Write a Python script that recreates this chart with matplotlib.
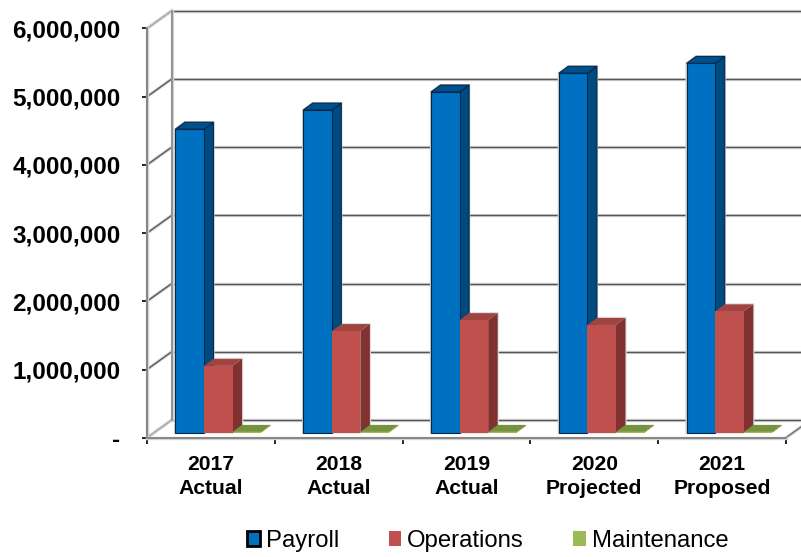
import matplotlib
matplotlib.use("Agg")
import matplotlib.pyplot as plt
import matplotlib.patheffects as pe
from matplotlib.patches import Polygon, Patch

plt.rcParams['font.family'] = ['Liberation Sans', 'DejaVu Sans']

categories = ["2017\nActual", "2018\nActual", "2019\nActual", "2020\nProjected", "2021\nProposed"]
payroll = [4450000, 4730000, 4995000, 5270000, 5415000]
operations = [980000, 1490000, 1650000, 1580000, 1780000]
maintenance = [12000, 12000, 12000, 12000, 12000]
y_ticks = [0, 1000000, 2000000, 3000000, 4000000, 5000000, 6000000]
y_labels = ["-", "1,000,000", "2,000,000", "3,000,000", "4,000,000", "5,000,000", "6,000,000"]

W, H = 801, 557
fig = plt.figure(figsize=(W / 100, H / 100), dpi=100, facecolor="white")
L, R, B, T = 147.0, 786.0, 437.7, 28.5
ax = fig.add_axes([L / W, (H - B) / H, (R - L) / W, (B - T) / H])
ax.set_xlim(0, 5)
ax.set_ylim(0, 6000000)
ax.set_facecolor("none")

XU = 5 / (R - L)          # data units per pixel
YU = 6000000 / (B - T)
WALL_DX, WALL_DY = 24.7 * XU, 17.7 * YU
BAR_W = 28.6 * XU
BAR_X0 = 28.4 * XU
BAR_Y0 = 5.0 * YU
D_X, D_Y = 9.5 * XU, 7.0 * YU

halo = [pe.withStroke(linewidth=2.4, foreground="#d4d4d4")]

# back wall grid
for v in y_ticks:
    ax.plot([WALL_DX, 5 + WALL_DX], [v + WALL_DY] * 2, color="#555555", lw=0.95, clip_on=False,
            zorder=1, path_effects=halo, solid_capstyle="butt")
    c = "#a8a8a8" if v in (0, 6000000) else "#555555"
    ax.plot([0, WALL_DX], [v, v + WALL_DY], color=c, lw=0.95, clip_on=False, zorder=1, path_effects=halo)
ax.plot([WALL_DX, WALL_DX], [WALL_DY, 6000000 + WALL_DY], color="#8c8c8c", lw=1.3, clip_on=False,
        zorder=1, path_effects=halo)
ax.plot([5, 5 + WALL_DX], [0, WALL_DY], color="#707070", lw=0.95, clip_on=False, zorder=1, path_effects=halo)


def bar3d(x, w, v, front, side, top, edge=None, halo_color=None):
    y0 = BAR_Y0
    y1 = BAR_Y0 + v
    # soft outline behind the whole block
    if halo_color:
        outline = [(x, y0), (x + w, y0), (x + w + D_X, y0 + D_Y), (x + w + D_X, y1 + D_Y),
                   (x + D_X, y1 + D_Y), (x, y1)]
        ax.add_patch(Polygon(outline, closed=True, facecolor=halo_color, edgecolor=halo_color,
                             linewidth=1.6, clip_on=False, zorder=2.5))
    kw = dict(clip_on=False, zorder=3, linewidth=0.8 if edge else 0,
              edgecolor=edge if edge else "none", joinstyle="miter")
    for pts, col in (
        ([(x + w, y0), (x + w + D_X, y0 + D_Y), (x + w + D_X, y1 + D_Y), (x + w, y1)], side),
        ([(x, y1), (x + D_X, y1 + D_Y), (x + w + D_X, y1 + D_Y), (x + w, y1)], top),
        ([(x, y0), (x + w, y0), (x + w, y1), (x, y1)], front),
    ):
        ax.add_patch(Polygon(pts, closed=True, facecolor=col, **kw))


for i in range(len(categories)):
    x0 = i + BAR_X0
    bar3d(x0, BAR_W, payroll[i], "#0070C0", "#004A80", "#00508C", edge="#06284a", halo_color="#cccccc")
    bar3d(x0 + BAR_W, BAR_W, operations[i], "#C0504D", "#7F3230", "#A04442", halo_color="#dddddd")
    bar3d(x0 + 2 * BAR_W, BAR_W, maintenance[i], "#9BBB59", "#76923C", "#76923C")

# axes
for s in ("top", "right"):
    ax.spines[s].set_visible(False)
for s in ("left", "bottom"):
    ax.spines[s].set_color("#808080")
    ax.spines[s].set_linewidth(1.3)
    ax.spines[s].set_path_effects(halo)
    ax.spines[s].set_zorder(2)

ax.set_yticks(y_ticks)
ax.set_yticklabels(y_labels, fontsize=17.5, fontweight="bold", color="black")
ax.tick_params(axis="y", length=3.6, width=1.2, color="black", pad=15.5, direction="out")
ax.set_xticks(range(6))
ax.set_xticklabels([""] * 6)
ax.tick_params(axis="x", which="major", length=4.5, width=1.2, color="black", direction="out")
ax.set_xticks([i + 0.5 for i in range(5)], minor=True)
ax.set_xticklabels(categories, minor=True, fontsize=15.2, fontweight="bold", color="black", linespacing=1.33)
ax.tick_params(axis="x", which="minor", length=0, pad=12.6)

handles = [
    Patch(facecolor="#0070C0", edgecolor="black", linewidth=2.0, label="Payroll"),
    Patch(facecolor="#C0504D", edgecolor="none", label="Operations"),
    Patch(facecolor="#9BBB59", edgecolor="none", label="Maintenance"),
]
fig.legend(handles=handles, ncol=3, loc="center", bbox_to_anchor=(488 / W, (H - 541) / H),
           frameon=False, fontsize=17.2, handlelength=0.54, handleheight=0.54, handletextpad=0.25,
           columnspacing=2.05, borderpad=0, borderaxespad=0)

fig.savefig("out.png", dpi=100, facecolor="white")
